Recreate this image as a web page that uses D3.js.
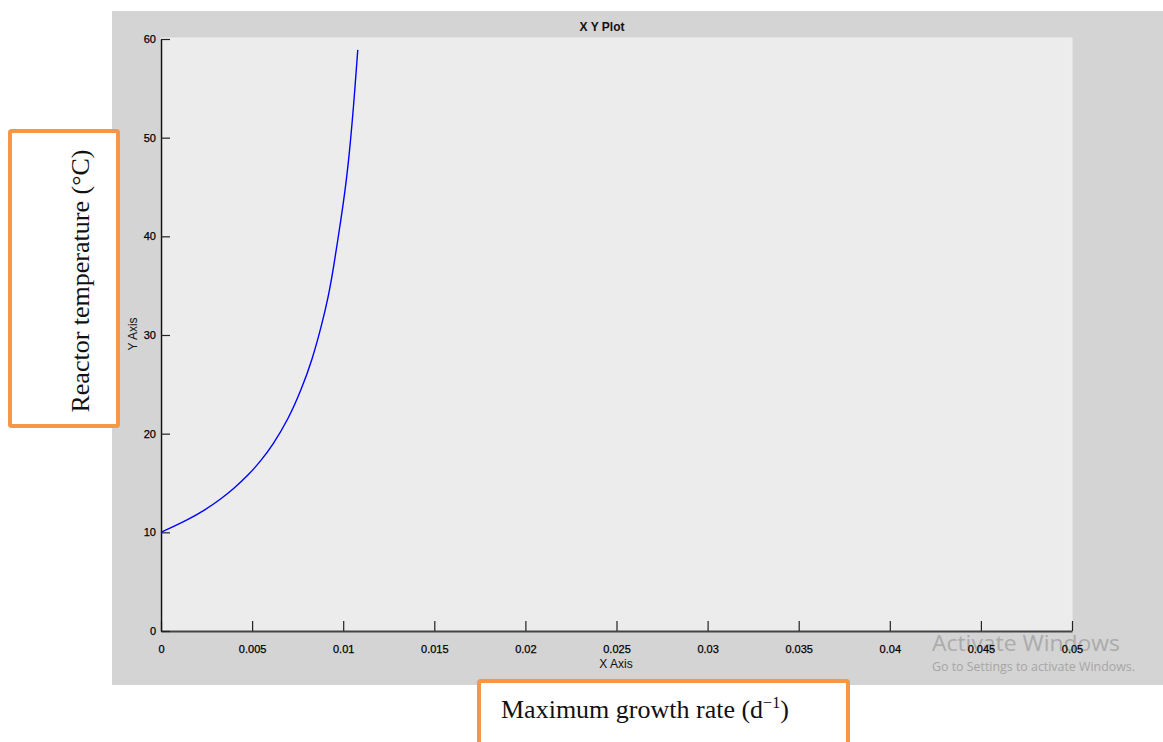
<!DOCTYPE html>
<html>
<head>
<meta charset="utf-8">
<script src="https://cdn.jsdelivr.net/npm/d3@7"></script>
<style>
  html, body { margin: 0; padding: 0; background: #ffffff; }
  svg { display: block; }
</style>
</head>
<body>
<svg id="chart" width="1163" height="742"></svg>
<script>
// Maximum growth rate (d^-1) against reactor temperature (°C)
const growthRate  = [0, 0.0015, 0.0024, 0.0033, 0.0040, 0.0048, 0.0055, 0.0061, 0.0070, 0.0077, 0.0083, 0.0088, 0.0092, 0.00946, 0.0099, 0.0101, 0.01028, 0.0104, 0.01055, 0.0108];
const temperature = [10, 11.3, 12.25, 13.4, 14.45, 15.8, 17.3, 18.75, 21.5, 24.45, 27.5, 30.85, 34.0, 36.7, 42.0, 44.6, 47.4, 49.7, 52.7, 58.9];

const xTicks = [0, 0.005, 0.01, 0.015, 0.02, 0.025, 0.03, 0.035, 0.04, 0.045, 0.05];
const xTickLabels = ["0", "0.005", "0.01", "0.015", "0.02", "0.025", "0.03", "0.035", "0.04", "0.045", "0.05"];
const yTicks = [0, 10, 20, 30, 40, 50, 60];

const plotTitle = "X Y Plot";
const xAxisName = "X Axis";
const yAxisName = "Y Axis";
const yLabel = "Reactor temperature (°C)";
const xLabelMain = "Maximum growth rate (d";
const xLabelSup = "\u22121";

const svg = d3.select("#chart");

// figure window background
svg.append("rect").attr("x", 112).attr("y", 11).attr("width", 1051).attr("height", 674).attr("fill", "#d4d4d4");

const plot = { left: 161, right: 1072, top: 38, bottom: 631 };
const x = d3.scaleLinear().domain([0, 0.05]).range([plot.left, plot.right]);
const y = d3.scaleLinear().domain([0, 60]).range([plot.bottom, plot.top + 1]);

// axes background
svg.append("rect")
  .attr("x", plot.left).attr("y", plot.top)
  .attr("width", plot.right - plot.left).attr("height", plot.bottom - plot.top)
  .attr("fill", "#ececec").attr("stroke", "#efefef").attr("stroke-width", 1);

const font = "'Liberation Sans', Arial, Helvetica, sans-serif";

// desktop watermark, sits beneath the axis labels
svg.append("text").attr("x", 932).attr("y", 651)
  .attr("font-family", "'Open Sans', 'Noto Sans', sans-serif").attr("font-size", 22).attr("fill", "#ababab")
  .attr("textLength", 188).attr("lengthAdjust", "spacingAndGlyphs")
  .text("Activate Windows");
svg.append("text").attr("x", 932).attr("y", 671)
  .attr("font-family", "'Open Sans', 'Noto Sans', sans-serif").attr("font-size", 12.5).attr("fill", "#a6a6a6")
  .attr("textLength", 203).attr("lengthAdjust", "spacingAndGlyphs")
  .text("Go to Settings to activate Windows.");

// x axis
const xAxis = d3.axisBottom(x).tickValues(xTicks)
  .tickFormat((d, i) => xTickLabels[i]).tickSizeInner(-10).tickSizeOuter(0).tickPadding(14);
const gx = svg.append("g").attr("transform", `translate(0,${plot.bottom})`).call(xAxis);
gx.select(".domain").attr("stroke", "#444").attr("stroke-width", 1.8);
gx.selectAll(".tick line").attr("stroke", "#222").attr("stroke-width", 1.2);
gx.selectAll(".tick text").attr("font-family", font).attr("font-size", 11).attr("fill", "#000")
  .attr("stroke", "#000").attr("stroke-width", 0.25);

// y axis
const yAxis = d3.axisLeft(y).tickValues(yTicks).tickFormat(d3.format("d"))
  .tickSizeInner(-9).tickSizeOuter(0).tickPadding(5);
const gy = svg.append("g").attr("transform", `translate(${plot.left},0)`).call(yAxis);
gy.select(".domain").attr("stroke", "#111").attr("stroke-width", 1.5);
gy.selectAll(".tick line").attr("stroke", "#222").attr("stroke-width", 1.2);
gy.selectAll(".tick text").attr("font-family", font).attr("font-size", 11).attr("fill", "#000")
  .attr("stroke", "#000").attr("stroke-width", 0.25);

// curve
const pts = growthRate.map((g, i) => [g, temperature[i]]);
svg.append("path")
  .datum(pts)
  .attr("fill", "none")
  .attr("stroke", "#0000ff")
  .attr("stroke-width", 1.4)
  .attr("d", d3.line().x(d => x(d[0])).y(d => y(d[1])).curve(d3.curveBasis));

// titles
svg.append("text").attr("x", 602).attr("y", 31).attr("text-anchor", "middle")
  .attr("font-family", font).attr("font-size", 12).attr("font-weight", "bold").attr("fill", "#111")
  .text(plotTitle);
svg.append("text").attr("x", 616).attr("y", 668).attr("text-anchor", "middle")
  .attr("font-family", font).attr("font-size", 12).attr("fill", "#111")
  .text(xAxisName);
svg.append("text").attr("transform", "translate(137,334) rotate(-90)").attr("text-anchor", "middle")
  .attr("font-family", font).attr("font-size", 12).attr("fill", "#111")
  .text(yAxisName);

// annotation boxes
const orange = "#f79646";
svg.append("rect").attr("x", 10).attr("y", 131).attr("width", 108).attr("height", 295)
  .attr("fill", "#ffffff").attr("stroke", orange).attr("stroke-width", 4).attr("rx", 1.5);
svg.append("text").attr("transform", "translate(89,281) rotate(-90)").attr("text-anchor", "middle")
  .attr("font-family", "'Liberation Serif', 'Times New Roman', serif").attr("font-size", 26).attr("fill", "#111")
  .text(yLabel);

svg.append("rect").attr("x", 479).attr("y", 681).attr("width", 369).attr("height", 80)
  .attr("fill", "#ffffff").attr("stroke", orange).attr("stroke-width", 4).attr("rx", 1.5);
const xl = svg.append("text").attr("x", 501).attr("y", 718)
  .attr("font-family", "'Liberation Serif', 'Times New Roman', serif").attr("font-size", 26).attr("fill", "#111");
xl.append("tspan").text(xLabelMain);
xl.append("tspan").attr("dy", -10).attr("font-size", 16).text(xLabelSup);
xl.append("tspan").attr("dy", 10).text(")");
</script>
</body>
</html>
